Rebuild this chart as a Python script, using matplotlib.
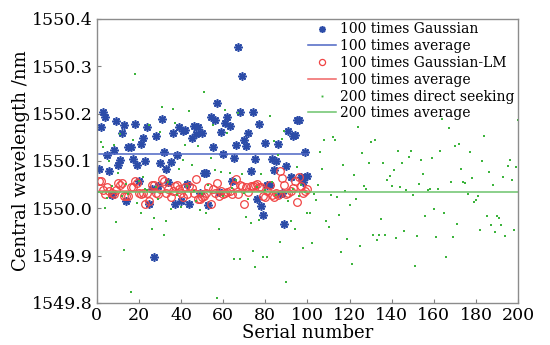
import numpy as np
import matplotlib
matplotlib.use("Agg")
import matplotlib.pyplot as plt

# serial numbers
serial_100 = np.arange(1, 101)
serial_200 = np.arange(1, 201)

# 100 times Gaussian fit (nm)
gauss = [
    1550.083, 1550.172, 1550.204, 1550.192, 1550.113, 1550.079, 1550.029, 1550.123, 1550.184, 1550.091,
    1550.102, 1550.159, 1550.176, 1550.015, 1550.130, 1550.130, 1550.105, 1550.179, 1550.091, 1550.058,
    1550.135, 1550.149, 1550.100, 1550.171, 1550.008, 1550.040, 1549.898, 1550.152, 1550.047, 1550.096,
    1550.189, 1550.119, 1550.083, 1550.055, 1550.098, 1550.159, 1550.009, 1550.112, 1550.171, 1550.015,
    1550.164, 1550.166, 1550.051, 1550.010, 1550.148, 1550.173, 1550.156, 1550.171, 1550.032, 1550.158,
    1550.075, 1550.075, 1550.006, 1550.193, 1550.129, 1550.187, 1550.222, 1550.034, 1550.161, 1550.115,
    1550.180, 1550.193, 1550.173, 1550.058, 1550.106, 1550.133, 1550.340, 1550.203, 1550.279, 1550.145,
    1550.131, 1550.159, 1550.079, 1550.204, 1550.105, 1550.019, 1550.178, 1550.005, 1549.985, 1550.137,
    1550.050, 1550.050, 1550.105, 1550.081, 1550.100, 1550.135, 1550.030, 1550.032, 1549.967, 1550.089,
    1550.164, 1550.067, 1550.152, 1550.154, 1550.186, 1550.186, 1550.067, 1550.055, 1550.119, 1550.068,
]

# 100 times Gaussian-LM fit (nm)
gauss_lm = [
    1550.058, 1550.058, 1550.039, 1550.031, 1550.044, 1550.037, 1550.032, 1550.030, 1550.039, 1550.054,
    1550.050, 1550.054, 1550.025, 1550.026, 1550.025, 1550.044, 1550.044, 1550.057, 1550.054, 1550.032,
    1550.030, 1550.033, 1550.008, 1550.033, 1550.015, 1550.050, 1550.050, 1550.033, 1550.030, 1550.040,
    1550.061, 1550.057, 1550.033, 1550.040, 1550.023, 1550.037, 1550.047, 1550.050, 1550.040, 1550.033,
    1550.023, 1550.044, 1550.030, 1550.047, 1550.042, 1550.033, 1550.061, 1550.019, 1550.019, 1550.023,
    1550.026, 1550.033, 1550.044, 1550.008, 1550.040, 1550.033, 1550.054, 1550.026, 1550.037, 1550.030,
    1550.033, 1550.035, 1550.037, 1550.030, 1550.050, 1550.062, 1550.030, 1550.050, 1550.047, 1550.008,
    1550.044, 1550.035, 1550.047, 1550.047, 1550.050, 1550.052, 1550.045, 1550.045, 1550.026, 1550.023,
    1550.037, 1550.050, 1550.027, 1550.023, 1550.032, 1550.027, 1550.079, 1550.064, 1550.050, 1550.030,
    1550.033, 1550.037, 1550.042, 1550.058, 1550.014, 1550.066, 1550.047, 1550.033, 1550.037, 1550.040,
]

# 200 times direct peak seeking (nm)
direct = [
    1550.035, 1550.141, 1550.130, 1550.000, 1550.021, 1550.099, 1550.048, 1550.134, 1549.970, 1550.074,
    1550.157, 1550.025, 1549.912, 1550.052, 1550.030, 1549.822, 1550.144, 1550.284, 1550.011, 1550.058,
    1549.989, 1550.067, 1550.040, 1550.038, 1550.177, 1549.956, 1549.980, 1550.045, 1550.020, 1550.161,
    1550.214, 1549.944, 1549.974, 1550.055, 1549.998, 1550.210, 1550.180, 1550.028, 1550.082, 1550.002,
    1550.102, 1550.134, 1550.048, 1550.205, 1550.092, 1550.036, 1550.015, 1550.132, 1549.996, 1550.030,
    1550.245, 1549.989, 1550.050, 1550.106, 1550.175, 1550.080, 1549.811, 1549.956, 1550.077, 1550.025,
    1550.208, 1550.158, 1550.075, 1550.042, 1549.893, 1550.060, 1550.201, 1549.893, 1550.072, 1550.033,
    1549.981, 1550.020, 1549.968, 1549.910, 1549.875, 1550.045, 1549.975, 1550.072, 1549.896, 1550.038,
    1549.896, 1550.195, 1550.055, 1550.143, 1550.028, 1550.113, 1549.928, 1550.146, 1550.163, 1549.845,
    1550.016, 1549.974, 1550.040, 1549.956, 1550.087, 1550.025, 1550.050, 1549.917, 1550.035, 1549.990,
    1549.991, 1549.927, 1550.030, 1550.017, 1550.050, 1550.118, 1550.083, 1550.144, 1549.973, 1549.961,
    1550.027, 1550.151, 1550.144, 1550.023, 1549.985, 1549.907, 1550.091, 1550.037, 1549.936, 1550.006,
    1549.882, 1550.070, 1550.019, 1550.172, 1549.920, 1550.116, 1550.047, 1550.041, 1550.095, 1550.141,
    1549.944, 1550.145, 1549.932, 1549.944, 1549.977, 1550.096, 1549.944, 1550.060, 1550.068, 1550.048,
    1550.081, 1549.937, 1550.120, 1550.045, 1550.095, 1549.952, 1550.039, 1550.108, 1550.120, 1550.027,
    1549.879, 1549.942, 1550.052, 1550.101, 1550.072, 1549.983, 1550.039, 1550.041, 1550.107, 1549.999,
    1549.940, 1550.041, 1550.122, 1550.188, 1549.990, 1549.898, 1550.170, 1550.056, 1549.940, 1550.132,
    1549.966, 1550.135, 1550.084, 1550.055, 1550.054, 1550.030, 1550.119, 1550.063, 1550.013, 1550.018,
    1550.025, 1549.954, 1550.100, 1550.153, 1549.983, 1550.077, 1549.965, 1550.050, 1549.950, 1549.983,
    1549.979, 1549.964, 1550.066, 1549.941, 1550.090, 1550.102, 1550.060, 1549.955, 1550.087, 1550.187,
]

# averages
avg_gauss = 1550.115
avg_gauss_lm = 1550.036
avg_direct = 1550.034

x_ticks = list(range(0, 201, 20))
y_ticks = [1549.8, 1549.9, 1550.0, 1550.1, 1550.2, 1550.3, 1550.4]

plt.rcParams['font.family'] = ['DejaVu Serif']

fig = plt.figure(figsize=(5.5, 3.45), dpi=100)
ax = fig.add_axes([0.176, 0.122, 0.766, 0.823])

ax.plot(serial_100, gauss, linestyle='none', marker=(8, 2, 0), markersize=6,
        markeredgewidth=1.2, color='#2c4ca8', label='100 times Gaussian')
ax.plot(serial_100, np.full(len(serial_100), avg_gauss), color='#4d66c4', lw=1.1,
        label='100 times average')
ax.plot(serial_100, gauss_lm, linestyle='none', marker='o', markersize=5.5,
        markerfacecolor='none', markeredgewidth=0.9, color='#f04444',
        label='100 times Gaussian-LM')
ax.plot(serial_100, np.full(len(serial_100), avg_gauss_lm), color='#f06464', lw=1.1,
        label='100 times average')
ax.plot(serial_200, direct, linestyle='none', marker='s', markersize=1.7,
        markeredgewidth=0, color='#3cb43c', label='200 times direct seeking')
ax.plot(serial_200, np.full(len(serial_200), avg_direct), color='#6cc46c', lw=1.1,
        label='200 times average')

ax.set_xlim(0, 200)
ax.set_ylim(1549.8, 1550.4)
ax.set_xticks(x_ticks)
ax.set_yticks(y_ticks)
ax.set_yticklabels([f"{v:.1f}" for v in y_ticks])
ax.tick_params(direction='in', length=3, width=0.8, color='#808080',
               labelsize=12.5, pad=3, top=False, right=False)
for sp in ax.spines.values():
    sp.set_color('#8c8c8c')
    sp.set_linewidth(1.0)

ax.set_xlabel('Serial number', fontsize=13, labelpad=0)
ax.set_ylabel('Central wavelength /nm', fontsize=13, labelpad=1)

ax.legend(loc='upper right', frameon=False, fontsize=10, handlelength=2.0,
          handletextpad=0.3, labelspacing=0.2, borderaxespad=0.1, borderpad=0.15,
          markerscale=0.8)

fig.savefig('out.png', dpi=100)
